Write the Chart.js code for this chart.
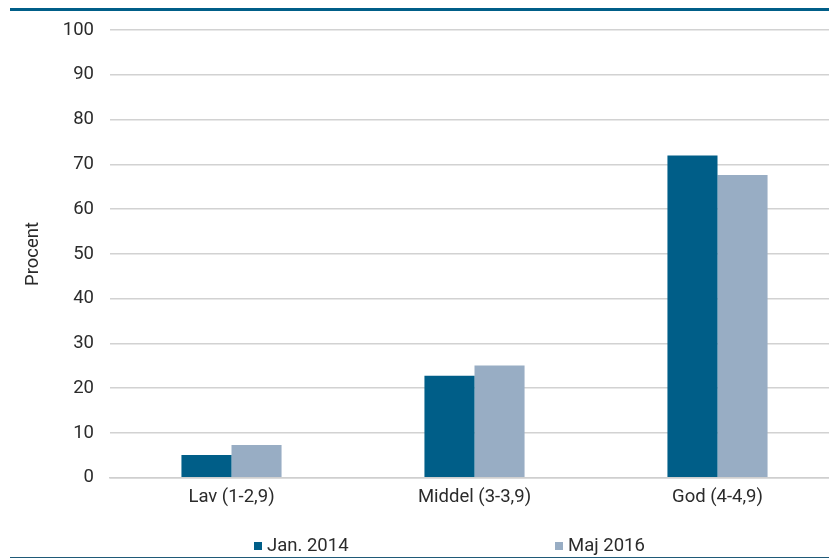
<!DOCTYPE html>
<html>
<head>
<meta charset="utf-8">
<script src="https://cdn.jsdelivr.net/npm/chart.js@4/dist/chart.umd.min.js"></script>
<style>
html,body{margin:0;padding:0;overflow:hidden;background:#fff;width:829px;height:560px;}
#wrap{position:absolute;left:0;top:0;width:839px;height:560px;}
#topline{position:absolute;left:10px;top:8px;width:819px;height:3px;background:#005e88;}
#botline{position:absolute;left:10px;top:557px;width:819px;height:1px;background:#1f5a78;}
.lg{position:absolute;top:534px;height:22px;font:18.5px Roboto,'Open Sans',sans-serif;color:#2b2b2b;white-space:nowrap;line-height:22px;}
.lg i{display:inline-block;width:8px;height:8px;margin-right:5px;vertical-align:1px;}
</style>
</head>
<body>
<div id="wrap"><canvas id="c" width="839" height="560"></canvas></div>
<div id="topline"></div>
<div id="botline"></div>
<div id="legend"></div>
<script>
const categories = ["Lav (1-2,9)", "Middel (3-3,9)", "God (4-4,9)"];
const jan2014 = [5.1, 22.8, 72.0];
const maj2016 = [7.3, 25.1, 67.6];
const seriesNames = ["Jan. 2014", "Maj 2016"];
const seriesColors = ["#005e88", "#98adc4"];
const yTicks = [0,10,20,30,40,50,60,70,80,90,100];

const FONT = "Roboto, 'Open Sans', sans-serif";
const FS = 18.5;
Chart.defaults.font.family = FONT;
Chart.defaults.color = "#2b2b2b";

const chart = new Chart(document.getElementById("c"), {
  type: "bar",
  data: {
    labels: categories,
    datasets: [
      {label: seriesNames[0], data: jan2014, backgroundColor: seriesColors[0], borderWidth: 0},
      {label: seriesNames[1], data: maj2016, backgroundColor: seriesColors[1], borderWidth: 0}
    ]
  },
  options: {
    responsive: false,
    animation: false,
    devicePixelRatio: 1,
    layout: {padding: {top: 30, right: 0, bottom: 44, left: 0}},
    datasets: {bar: {categoryPercentage: 0.412, barPercentage: 1.0}},
    plugins: {
      tooltip: {enabled: false},
      legend: {display: false}
    },
    scales: {
      x: {
        grid: {display: false, drawTicks: false},
        border: {display: true, color: "#cfcfcf", width: 1.5},
        ticks: {font: {size: FS}, padding: 8, color: "#2b2b2b"}
      },
      y: {
        min: 0, max: 100,
        afterBuildTicks: s => { s.ticks = yTicks.map(v => ({value: v})); },
        afterFit: s => { s.width = 110; },
        grid: {color: "#d2d2d2", lineWidth: 1.5, drawTicks: false},
        border: {display: false},
        ticks: {font: {size: FS}, padding: 16, color: "#2b2b2b"},
        title: {display: true, text: "Procent", font: {size: FS}, color: "#2b2b2b", padding: {top: 22, bottom: 0}}
      }
    }
  }
});

// HTML legend built from the series
const legendX = [254, 555];
const lg = document.getElementById("legend");
chart.data.datasets.forEach((ds, i) => {
  const d = document.createElement("div");
  d.className = "lg";
  d.style.left = legendX[i] + "px";
  const sw = document.createElement("i");
  sw.style.background = ds.backgroundColor;
  d.appendChild(sw);
  d.appendChild(document.createTextNode(ds.label));
  lg.appendChild(d);
});
</script>
</body>
</html>
